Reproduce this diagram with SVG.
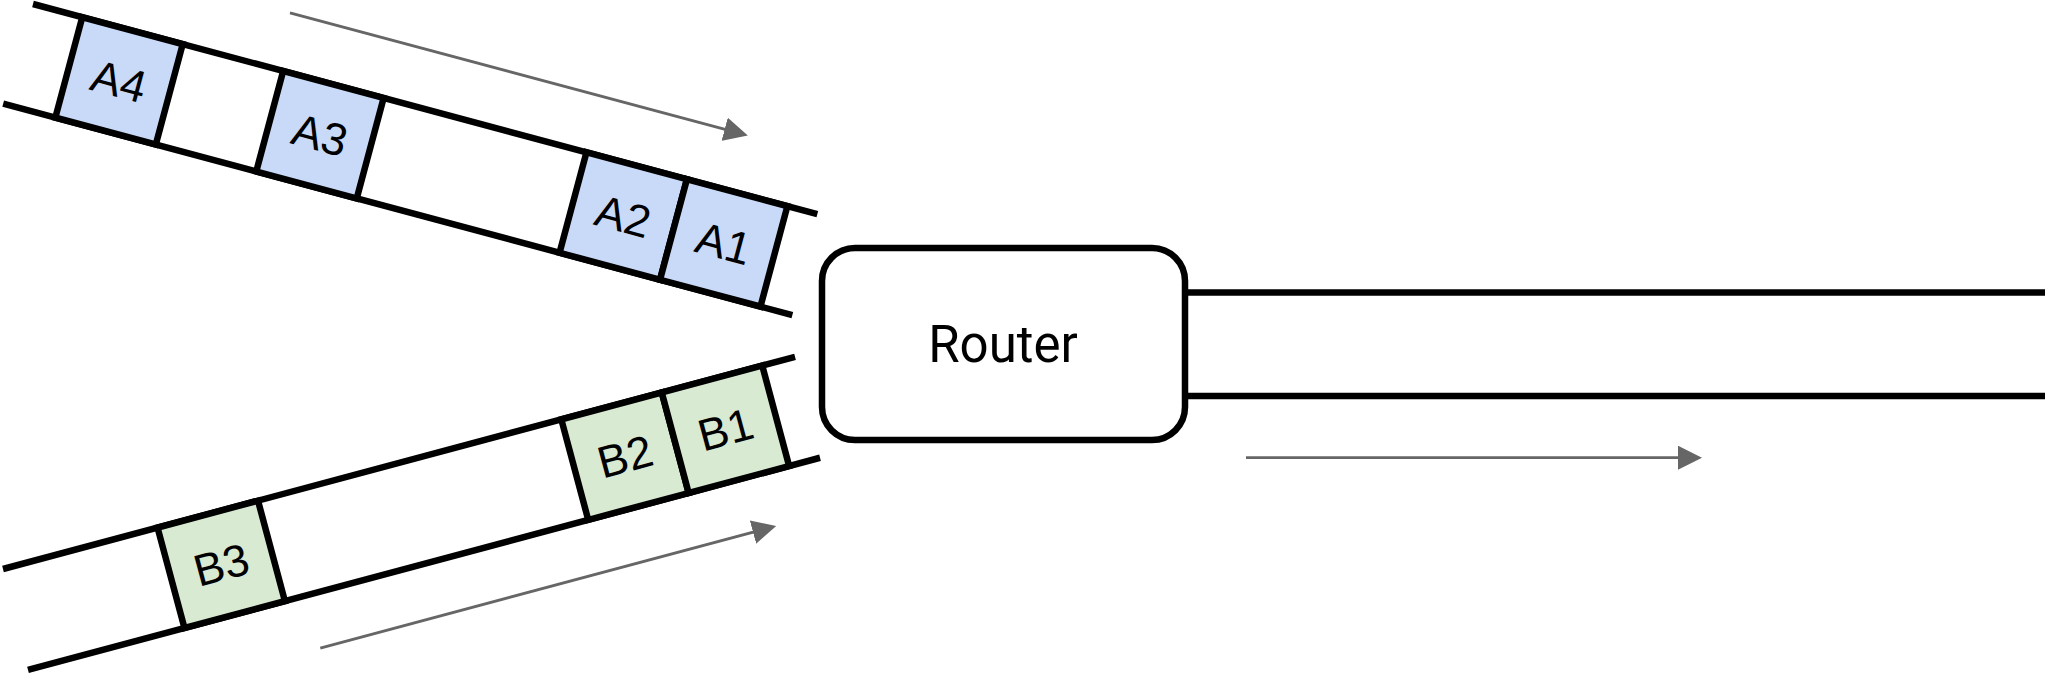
<svg xmlns="http://www.w3.org/2000/svg" width="2048" height="675" viewBox="0 0 2048 675">
  <defs>
    <marker id="arrow" viewBox="0 0 24 24" refX="14" refY="12" markerWidth="24" markerHeight="24" markerUnits="userSpaceOnUse" orient="auto">
      <path d="M0,0 L24,12 L0,24 z" fill="#666666"/>
    </marker>
  </defs>
  <style>
    .wire { stroke: #000; stroke-width: 6.5; fill: none; }
    .pa { fill: #c9daf8; stroke: #000; stroke-width: 6.5; }
    .pb { fill: #d9ead3; stroke: #000; stroke-width: 6.5; }
    .lbl { font-family: "Liberation Sans", Arial, sans-serif; font-size: 45px; fill: #000; text-anchor: middle; }
    .flow { stroke: #666666; stroke-width: 2.8; fill: none; marker-end: url(#arrow); }
    .router { fill: #fff; stroke: #000; stroke-width: 6.5; }
    .rlbl { font-family: Roboto, "Liberation Sans", sans-serif; font-size: 51px; fill: #000; text-anchor: middle; }
  </style>

  <g id="channel-a" transform="translate(33,4) rotate(15)">
    <path class="wire" d="M0,0 H812 M-3,104 H814"/>
    <g id="packet-A4"><rect class="pa" x="51" y="0" width="104" height="104"/><text class="lbl" x="103" y="68">A4</text></g>
    <g id="packet-A3"><rect class="pa" x="259" y="0" width="104" height="104"/><text class="lbl" x="311" y="68">A3</text></g>
    <g id="packet-A2"><rect class="pa" x="573" y="0" width="104" height="104"/><text class="lbl" x="625" y="68">A2</text></g>
    <g id="packet-A1"><rect class="pa" x="677" y="0" width="104" height="104"/><text class="lbl" x="729" y="68">A1</text></g>
  </g>

  <g id="channel-b" transform="translate(3,569) rotate(-15)">
    <path class="wire" d="M0,0 H820 M-2,104 H818"/>
    <g id="packet-B3"><rect class="pb" x="160" y="0" width="104" height="104"/><text class="lbl" x="212" y="68">B3</text></g>
    <g id="packet-B2"><rect class="pb" x="578" y="0" width="104" height="104"/><text class="lbl" x="630" y="68">B2</text></g>
    <g id="packet-B1"><rect class="pb" x="682" y="0" width="104" height="104"/><text class="lbl" x="734" y="68">B1</text></g>
  </g>

  <g id="router">
    <rect class="router" x="822" y="248" width="363" height="192" rx="33" ry="33"/>
    <text class="rlbl" x="1003" y="362">Router</text>
  </g>

  <g id="output-link">
    <path class="wire" d="M1185,292.5 H2045 M1185,396 H2045"/>
  </g>

  <g id="connectors">
    <path class="flow" transform="translate(33,4) rotate(15)" d="M250.5,-58 H714.5"/>
    <path class="flow" transform="translate(3,569) rotate(-15)" d="M286,158.5 H748"/>
    <path class="flow" d="M1246,457.7 H1692"/>
  </g>
</svg>
